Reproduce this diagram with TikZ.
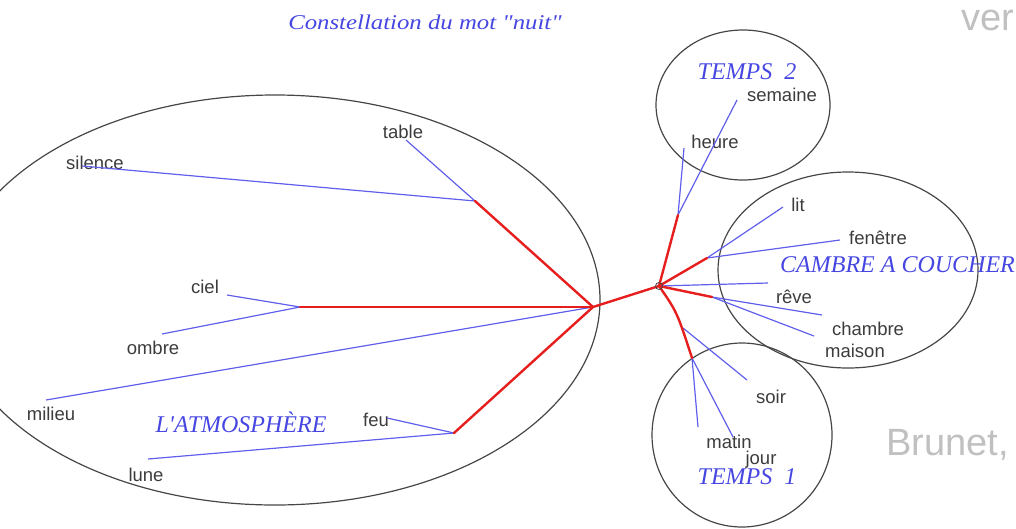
\documentclass[tikz,border=0pt]{standalone}
\usepackage{fontspec}
\setmainfont{Liberation Serif}
\newfontfamily\lblfont{Liberation Sans}
\newfontfamily\titlefont{Liberation Serif}[Ligatures=TeXOff]
\usetikzlibrary{calc}
\definecolor{inkblue}{RGB}{70,70,225}
\definecolor{linkblue}{RGB}{95,95,235}
\definecolor{linkred}{RGB}{230,30,30}
\definecolor{ringgray}{RGB}{70,70,70}
\definecolor{wordgray}{RGB}{60,60,60}
\definecolor{slidegray}{RGB}{192,192,192}
\tikzset{
  ring/.style={draw=ringgray, line width=1.2pt},
  word/.style={font=\lblfont\fontsize{18.5}{20}\selectfont, text=wordgray, inner sep=0pt},
  theme/.style={font=\titlefont\itshape\fontsize{24}{26}\selectfont, text=inkblue, inner sep=0pt},
  slide/.style={font=\lblfont\fontsize{38}{40}\selectfont, text=slidegray, inner sep=0pt},
  trunk/.style={draw=linkred, line width=2.4pt, line cap=round},
  twig/.style={draw=linkblue, line width=1.2pt},
}
\begin{document}
\begin{tikzpicture}[x=1pt,y=-1pt]
\useasboundingbox (0,0) rectangle (1016,528);
\clip (0,0) rectangle (1016,528);
% rings
\draw[ring] (275,300) ellipse [x radius=325, y radius=205];
\draw[ring] (743,105) ellipse [x radius=87, y radius=75];
\draw[ring] (848,270) ellipse [x radius=130, y radius=98];
\draw[ring] (742,435) ellipse [x radius=90, y radius=92];
% title and slide remnants
\node[font=\titlefont\itshape\fontsize{21}{23}\selectfont, text=inkblue, inner sep=0pt] (title) at (425,22) {\scalebox{1.18}[1]{Constellation du mot "nuit"}};
\node[slide, anchor=base west] (ver) at (961,30) {ver};
\node[slide, anchor=base west] (brunet) at (886,455) {Brunet,};
% themes
\node[theme] (atmo) at (241,422) {L'ATMOSPHÈRE};
\node[theme] (temps2) at (747,72) {TEMPS\ \ 2};
\node[theme, anchor=east] (cambre) at (1015,265) {CAMBRE A COUCHER};
\node[theme] (temps1) at (747,477) {TEMPS\ \ 1};
% hubs and junctions
\coordinate (A) at (593,307);
\coordinate (B) at (659,286);
\coordinate (jST) at (475,201);
\coordinate (jCO) at (300,307);
\coordinate (jFL) at (454,433);
\coordinate (jT2) at (678,215);
\coordinate (jLF) at (707,258);
\coordinate (jRC) at (712,297);
\coordinate (jSo) at (683,328);
\coordinate (jT1) at (692,358);
% word labels
\node[word] (silence) at (95,163) {silence};
\node[word] (table) at (403,132) {table};
\node[word] (ciel) at (205,287) {ciel};
\node[word] (ombre) at (153,348) {ombre};
\node[word] (milieu) at (51,414) {milieu};
\node[word] (feu) at (376,420) {feu};
\node[word] (lune) at (146,475) {lune};
\node[word] (heure) at (715,142) {heure};
\node[word] (semaine) at (782,95) {semaine};
\node[word] (lit) at (798,205) {lit};
\node[word] (fenetre) at (878,238) {fenêtre};
\node[word] (reve) at (794,297) {rêve};
\node[word] (chambre) at (868,329) {chambre};
\node[word] (maison) at (855,351) {maison};
\node[word] (soir) at (771,397) {soir};
\node[word] (matin) at (729,442) {matin};
\node[word] (jour) at (761,460) {jour};
% free ends of the twigs
\coordinate (eSilence) at (82,166);
\coordinate (eTable) at (406,140);
\coordinate (eCiel) at (227,295);
\coordinate (eOmbre) at (162,334);
\coordinate (eMilieu) at (46,400);
\coordinate (eFeu) at (387,418);
\coordinate (eLune) at (148,459);
\coordinate (eHeure) at (684,148);
\coordinate (eSemaine) at (737,100);
\coordinate (eLit) at (783,207);
\coordinate (eFenetre) at (840,240);
\coordinate (eMid) at (768,283);
\coordinate (eReve) at (822,315);
\coordinate (eChambre) at (814,336);
\coordinate (eSoir) at (747,380);
\coordinate (eMatin) at (698,427);
\coordinate (eJour) at (733,437);
% blue twigs
\draw[twig] (jST) -- (eSilence);
\draw[twig] (jST) -- (eTable);
\draw[twig] (jCO) -- (eCiel);
\draw[twig] (jCO) -- (eOmbre);
\draw[twig] (A) -- (eMilieu);
\draw[twig] (jFL) -- (eFeu);
\draw[twig] (jFL) -- (eLune);
\draw[twig] (jT2) -- (eHeure);
\draw[twig] (jT2) -- (eSemaine);
\draw[twig] (jLF) -- (eLit);
\draw[twig] (jLF) -- (eFenetre);
\draw[twig] (B) -- (eMid);
\draw[twig] (jRC) -- (eReve);
\draw[twig] (jRC) -- (eChambre);
\draw[twig] (jSo) -- (eSoir);
\draw[twig] (jT1) -- (eMatin);
\draw[twig] (jT1) -- (eJour);
% red trunks
\draw[trunk] (A) -- (jST);
\draw[trunk] (A) -- (jCO);
\draw[trunk] (A) -- (jFL);
\draw[trunk] (A) -- (B);
\draw[trunk] (B) -- (jT2);
\draw[trunk] (B) -- (jLF);
\draw[trunk] (B) -- (jRC);
\draw[trunk] (B) .. controls (677,312) .. (jT1);
\draw[draw=ringgray, line width=0.8pt] (B) circle [radius=3.5];
\end{tikzpicture}
\end{document}
